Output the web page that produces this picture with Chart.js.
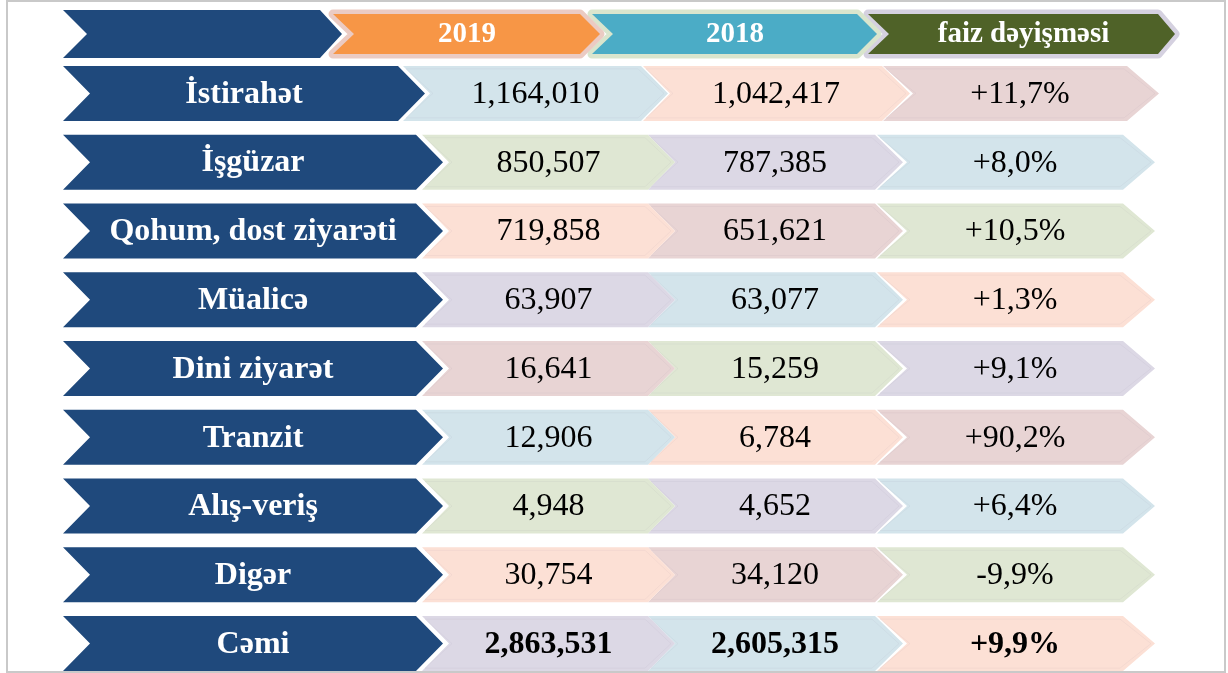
<!DOCTYPE html>
<html>
<head>
<meta charset="utf-8">
<script src="https://cdn.jsdelivr.net/npm/chart.js@4.4.1/dist/chart.umd.min.js"></script>
<style>
  html, body { margin: 0; padding: 0; background: #ffffff; }
  #wrap { position: relative; width: 1228px; height: 673px; overflow: hidden; background: #ffffff; }
  #frame { position: absolute; left: 6px; top: 0px; width: 1220px; height: 673px; box-sizing: border-box; border: 2px solid #c9c9c9; }
  canvas { position: absolute; left: 0; top: 0; }
</style>
</head>
<body>
<div id="wrap">
  <div id="frame"></div>
  <canvas id="body" width="1228" height="678"></canvas>
  <canvas id="head" width="1228" height="68"></canvas>
</div>
<script>
// ---------------- DATA ----------------
const categories = ['İstirahət', 'İşgüzar', 'Qohum, dost ziyarəti', 'Müalicə', 'Dini ziyarət', 'Tranzit', 'Alış-veriş', 'Digər', 'Cəmi'];
const values2019 = [1164010, 850507, 719858, 63907, 16641, 12906, 4948, 30754, 2863531];
const values2018 = [1042417, 787385, 651621, 63077, 15259, 6784, 4652, 34120, 2605315];
const pctChange  = [11.7, 8.0, 10.5, 1.3, 9.1, 90.2, 6.4, -9.9, 9.9];
const columnHeaders = ['2019', '2018', 'faiz dəyişməsi'];

// ---------------- LAYOUT / STYLE ----------------
const FONT = '"Liberation Serif", "Times New Roman", "DejaVu Serif", serif';
const NAVY = '#1F497C';
const TINTS = ['#D3E4EB', '#FCE0D5', '#E8D4D4', '#DFE7D3', '#DCD8E5'];
// column spans on the x scale (left edge, arrow tip) and chevron depths
const BODY_COLS = [
  { L: 63,  tip: 443,  dIn: 27, dOut: 27 },
  { L: 422, tip: 675,  dIn: 27, dOut: 27 },
  { L: 648, tip: 903,  dIn: 27, dOut: 28 },
  { L: 877, tip: 1155, dIn: 30, dOut: 32 }
];
// the first row of the original is laid out slightly narrower
const FIRST_ROW_SPANS = [[63, 425], [403, 668], [643, 910], [883, 1159]];
const HEAD_COLS = [
  { L: 63,  tip: 342,  dIn: 24, dOut: 22, color: NAVY,      glow: null,      thick: 48 },
  { L: 333, tip: 600,  dIn: 21, dOut: 20, color: '#F79646', glow: '#EBCBC3', thick: 40 },
  { L: 592, tip: 877,  dIn: 21, dOut: 20, color: '#4BACC6', glow: '#D9E5CD', thick: 40 },
  { L: 868, tip: 1175, dIn: 21, dOut: 17, color: '#4F6228', glow: '#D5D1E0', thick: 40 }
];

const fmtInt = v => String(v).replace(/\B(?=(\d{3})+(?!\d))/g, ',');
const fmtPct = v => (v > 0 ? '+' : '') + v.toFixed(1).replace('.', ',') + '%';

function chevronPath(ctx, L, tip, top, bottom, dIn, dOut) {
  const mid = (top + bottom) / 2;
  ctx.beginPath();
  ctx.moveTo(L, top);
  ctx.lineTo(tip - dOut, top);
  ctx.lineTo(tip, mid);
  ctx.lineTo(tip - dOut, bottom);
  ctx.lineTo(L, bottom);
  ctx.lineTo(L + dIn, mid);
  ctx.closePath();
}

const chevronPlugin = {
  id: 'chevrons',
  beforeDatasetDraw(chart, args) {
    const ctx = chart.ctx;
    const ds = chart.data.datasets[args.index];
    const geo = ds.geo;
    ctx.save();
    args.meta.data.forEach((el, i) => {
      const L = Math.min(el.base, el.x), tip = Math.max(el.base, el.x);
      const top = el.y - el.height / 2, bottom = el.y + el.height / 2;
      const fill = Array.isArray(ds.backgroundColor) ? ds.backgroundColor[i] : ds.backgroundColor;
      if (ds.glow) {
        chevronPath(ctx, L, tip, top, bottom, geo.dIn, geo.dOut);
        ctx.lineJoin = 'round';
        ctx.lineWidth = 9;
        ctx.strokeStyle = ds.glow;
        ctx.stroke();
      }
      chevronPath(ctx, L, tip, top, bottom, geo.dIn, geo.dOut);
      ctx.fillStyle = fill;
      ctx.fill();
      if (ds.bevel) {
        chevronPath(ctx, L + 3, tip - 4, top + 3, bottom - 3, geo.dIn, geo.dOut - 1);
        ctx.lineWidth = 1;
        ctx.lineJoin = 'miter';
        ctx.strokeStyle = 'rgba(120,110,130,0.06)';
        ctx.stroke();
      }
      const txt = ds.texts ? ds.texts[i] : '';
      if (txt) {
        const bold = typeof ds.bold === 'function' ? ds.bold(i) : ds.bold;
        ctx.font = (bold ? 'bold ' : '') + ds.fontSize + 'px ' + FONT;
        ctx.fillStyle = ds.textColor;
        ctx.textAlign = 'center';
        ctx.textBaseline = 'middle';
        const cx = (L + geo.dIn + tip - geo.dOut) / 2;
        ctx.fillText(txt, cx, el.y + 1);
      }
    });
    ctx.restore();
    return false;
  }
};

// ---------------- BODY CHART ----------------
const bodyTexts = [
  categories,
  values2019.map(fmtInt),
  values2018.map(fmtInt),
  pctChange.map(fmtPct)
];
const lastRow = categories.length - 1;
const bodyDatasets = BODY_COLS.map((geo, c) => ({
  label: c === 0 ? 'label' : columnHeaders[c - 1],
  data: categories.map((_, r) => r === 0 ? FIRST_ROW_SPANS[c].slice() : [geo.L, geo.tip]),
  backgroundColor: c === 0 ? categories.map(() => NAVY) : categories.map((_, r) => TINTS[(3 * r + (c - 1)) % 5]),
  geo: geo,
  texts: bodyTexts[c],
  textColor: c === 0 ? '#FFFFFF' : '#000000',
  bold: c === 0 ? true : (i => i === lastRow),
  bevel: c !== 0,
  fontSize: 32,
  barThickness: 55,
  grouped: false
}));

new Chart(document.getElementById('body'), {
  type: 'bar',
  data: { labels: categories, datasets: bodyDatasets },
  options: {
    indexAxis: 'y',
    responsive: false,
    animation: false,
    devicePixelRatio: 1,
    layout: { padding: { top: 59, bottom: 0, left: 0, right: 0 } },
    scales: {
      x: { type: 'linear', min: 0, max: 1228, display: false },
      y: { type: 'category', display: false, offset: true }
    },
    plugins: { legend: { display: false }, tooltip: { enabled: false } },
    events: []
  },
  plugins: [chevronPlugin]
});

// ---------------- HEADER CHART ----------------
const headTexts = ['', ...columnHeaders];
const headDatasets = HEAD_COLS.map((geo, c) => ({
  label: headTexts[c] || 'header',
  data: [[geo.L, geo.tip]],
  backgroundColor: geo.color,
  glow: geo.glow,
  geo: geo,
  texts: [headTexts[c]],
  textColor: '#FFFFFF',
  bold: true,
  fontSize: 29,
  barThickness: geo.thick,
  grouped: false
}));

new Chart(document.getElementById('head'), {
  type: 'bar',
  data: { labels: ['header'], datasets: headDatasets },
  options: {
    indexAxis: 'y',
    responsive: false,
    animation: false,
    devicePixelRatio: 1,
    layout: { padding: 0 },
    scales: {
      x: { type: 'linear', min: 0, max: 1228, display: false },
      y: { type: 'category', display: false, offset: true }
    },
    plugins: { legend: { display: false }, tooltip: { enabled: false } },
    events: []
  },
  plugins: [chevronPlugin]
});
</script>
</body>
</html>
